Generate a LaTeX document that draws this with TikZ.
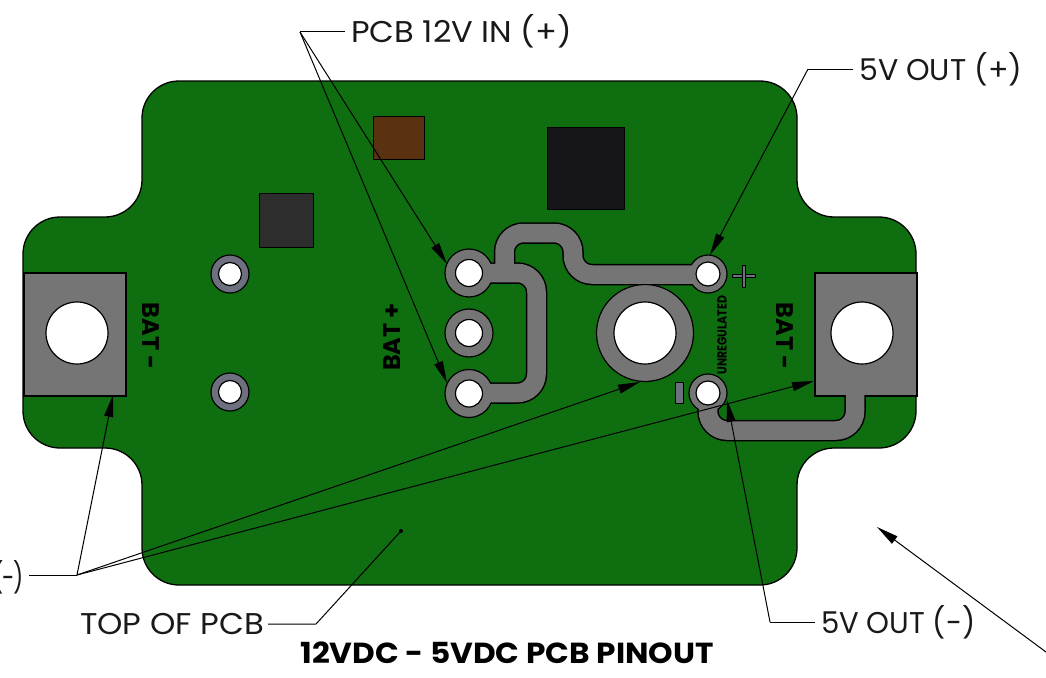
\documentclass[tikz,border=0pt]{standalone}
\usepackage{fontspec}
\setmainfont{Poppins}
\usetikzlibrary{arrows.meta}
\definecolor{pcbgreen}{HTML}{0F6E10}
\definecolor{padgray}{HTML}{757575}
\definecolor{viagray}{HTML}{6E7080}
\definecolor{brownpart}{HTML}{5A3212}
\definecolor{blackpart}{HTML}{15151A}
\definecolor{darkpart}{HTML}{2D2D2D}
\tikzset{
  x=1pt,y=-1pt,
  board/.style={fill=pcbgreen,draw=black,line width=1.3pt,rounded corners=37pt},
  partbox/.style={draw=black,line width=.8pt},
  tracebase/.style={draw=black,line width=21.5pt,rounded corners=19pt},
  tracetop/.style={draw=padgray,line width=18.5pt,rounded corners=19pt},
  hole/.style={circle,draw=black,fill=white,line width=1.2pt,inner sep=0,minimum size=#1},
  padouter/.style={circle,draw=black,fill=padgray,line width=1.2pt,inner sep=0,minimum size=#1},
  leader/.style={draw=black,line width=1pt},
  arrowline/.style={leader,-{Triangle[length=22pt,width=9pt]}},
  lab/.style={font=\fontsize{30}{32}\selectfont,inner sep=0,text=black!90},
  silk/.style={font=\fontsize{24}{26}\selectfont\bfseries,inner sep=0},
}
\begin{document}
\begin{tikzpicture}
\useasboundingbox (0,0) rectangle (1046,677);
% board
\path[board] (23,217) -- (142,217) -- (142,81) -- (797,81) -- (797,217) -- (916,217) -- (916,448) -- (797,448) -- (797,585) -- (142,585) -- (142,448) -- (23,448) -- cycle;
% components
\node[partbox,fill=brownpart,anchor=north west,inner sep=0,minimum width=51pt,minimum height=43pt] (brown) at (373,116) {};
\node[partbox,fill=blackpart,anchor=north west,inner sep=0,minimum width=77pt,minimum height=82pt] (blackic) at (547,127) {};
\node[partbox,fill=darkpart,anchor=north west,inner sep=0,minimum width=54pt,minimum height=54pt] (darkic) at (259,193) {};
% terminal pads
\node[draw=black,fill=padgray,line width=1.5pt,anchor=north west,inner sep=0,minimum width=102pt,minimum height=123pt] (padL) at (23,272) {};
\node[draw=black,fill=padgray,line width=1.5pt,anchor=north west,inner sep=0,minimum width=102pt,minimum height=123pt] (padR) at (814,272) {};
% trace outlines
\path[tracebase] (469,273) -- (536.5,273) -- (536.5,393) -- (469,393);
\path[tracebase] (504.5,273) -- (504.5,233) -- (573,233) -- (573,274.5) -- (708,274.5);
\path[tracebase] (708,393) -- (708,430.5) -- (855,430.5) -- (855,395);
% pad circles
\node[padouter=48pt] (p1) at (469,273) {};
\node[padouter=48pt] (p2) at (469,333) {};
\node[padouter=48pt] (p3) at (469,393.5) {};
\node[padouter=97pt] (pc) at (645,333) {};
\node[padouter=38pt] (pplus) at (708,274) {};
\node[padouter=38pt] (pminus) at (708,393) {};
\node[circle,draw=black,fill=viagray,line width=1.2pt,inner sep=0,minimum size=38pt] (v1) at (230,274) {};
\node[circle,draw=black,fill=viagray,line width=1.2pt,inner sep=0,minimum size=38pt] (v2) at (230,392) {};
% trace fill
\path[tracetop] (469,273) -- (536.5,273) -- (536.5,393) -- (469,393);
\path[tracetop] (504.5,273) -- (504.5,233) -- (573,233) -- (573,274.5) -- (708,274.5);
\path[tracetop] (708,393) -- (708,430.5) -- (855,430.5) -- (855,385);
% holes
\node[hole=62pt] (hL) at (77,333) {};
\node[hole=62pt] (hR) at (862,333) {};
\node[hole=27pt] (h1) at (469,273) {};
\node[hole=27pt] (h2) at (469,333) {};
\node[hole=27pt] (h3) at (469,393.5) {};
\node[hole=62pt] (hc) at (645,333) {};
\node[hole=24pt] (hplus) at (708,274) {};
\node[hole=24pt] (hminus) at (708,393) {};
\node[hole=23pt] (hv1) at (230,274) {};
\node[hole=23pt] (hv2) at (230,392) {};
% silkscreen marks
\fill[viagray,draw=black,line width=.7pt] (732,274.5) rectangle (755,277.5);
\fill[viagray,draw=black,line width=.7pt] (742,265) rectangle (745,287);
\node[draw=black,fill=viagray,line width=.7pt,anchor=north west,inner sep=0,minimum width=8pt,minimum height=21pt] (minusmark) at (675,382) {};
\node[silk,rotate=-90] (batL) at (151,336) {BAT -};
\node[silk,rotate=-90] (batR) at (785,336) {BAT -};
\node[silk,rotate=90] (batP) at (392,337) {BAT +};
\node[inner sep=0,rotate=90,font=\fontsize{13}{14}\selectfont\bfseries] (unreg) at (722,335) {\scalebox{.84}[1]{UNREGULATED}};
% labels
\node[lab,anchor=west] (l12) at (351,31) {\scalebox{1.07}[1]{PCB 12V IN (+)}};
\node[lab,anchor=west] (l5p) at (859,69) {5V OUT (+)};
\node[lab,anchor=west] (l5m) at (821,622) {\scalebox{.97}[1]{5V OUT (-)}};
\node[lab,anchor=east] (lbat) at (24,577) {\scalebox{.75}[1]{(\kern-1.5pt-\kern-1.5pt)}};
\node[lab,anchor=west] (ltop) at (80,624) {\scalebox{1.075}[1]{TOP OF PCB}};
\node[inner sep=0,font=\fontsize{29}{31}\selectfont\bfseries] (title) at (507,653) {\scalebox{1.075}[1]{12VDC - 5VDC PCB PINOUT}};
% leaders
\coordinate (k12) at (300,32);
\coordinate (t12a) at (447,264);
\coordinate (t12b) at (447,383);
\draw[leader] (l12.west) ++(-6,1) -- (k12);
\draw[arrowline] (k12) -- (t12a);
\draw[arrowline] (k12) -- (t12b);
\coordinate (k5p) at (808,69);
\coordinate (t5p) at (710,255);
\draw[leader] (l5p.west) ++(-6,0) -- (k5p);
\draw[arrowline] (k5p) -- (t5p);
\coordinate (k5m) at (770,622);
\coordinate (t5m) at (727,400);
\draw[leader] (l5m.west) ++(-6,0) -- (k5m);
\draw[arrowline] (k5m) -- (t5m);
\coordinate (kbat) at (77,575);
\coordinate (tbatL) at (113,395);
\coordinate (tbatC) at (640,382);
\coordinate (tbatR) at (814,381);
\draw[leader] (29,575) -- (kbat);
\draw[arrowline] (kbat) -- (tbatL);
\draw[arrowline] (kbat) -- (tbatC);
\draw[arrowline] (kbat) -- (tbatR);
\coordinate (ktop) at (316,624);
\coordinate (dot) at (401,531);
\draw[leader] (268,624) -- (ktop) -- (dot);
\fill[black] (dot) circle (2pt);
\coordinate (farr) at (1046,652);
\coordinate (tarr) at (877,527);
\draw[arrowline] (farr) -- (tarr);
\end{tikzpicture}
\end{document}
